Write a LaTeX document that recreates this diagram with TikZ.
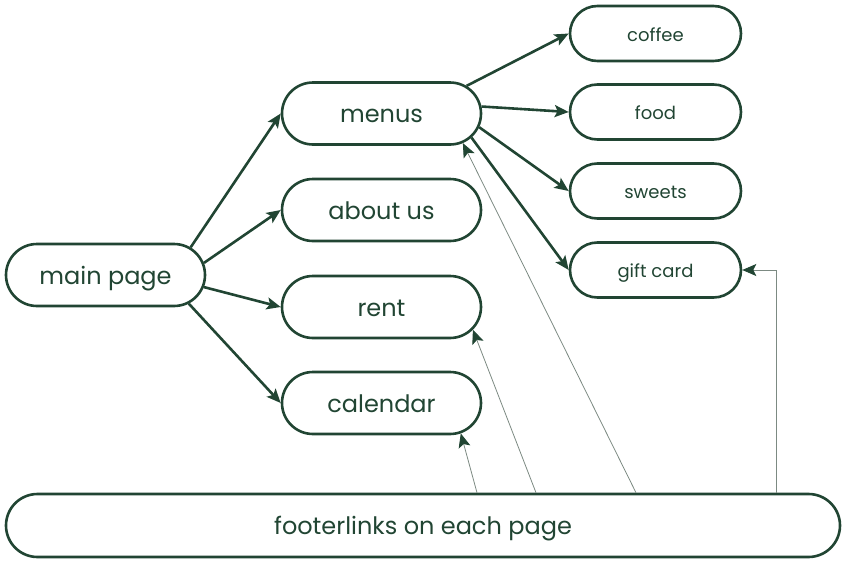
\documentclass[tikz,border=0pt]{standalone}
\usepackage{fontspec}
\setmainfont{Poppins}
\usetikzlibrary{shapes.misc,arrows.meta,calc}
\definecolor{dkgreen}{HTML}{214533}
\definecolor{thin}{HTML}{7C8A82}
\tikzset{
  bigbox/.style={rounded rectangle, draw=dkgreen, line width=2.6pt, minimum width=199pt, minimum height=62pt, text=dkgreen, font=\fontsize{24}{28}\selectfont, inner sep=0pt, text height=18pt, text depth=0pt},
  smallbox/.style={rounded rectangle, draw=dkgreen, line width=2.6pt, minimum width=171pt, minimum height=55pt, text=dkgreen, font=\fontsize{18}{21}\selectfont, inner sep=0pt, text height=15pt, text depth=0pt},
  thick link/.style={draw=dkgreen, line width=2.6pt, -{Stealth[length=14pt,width=12pt,inset=3pt]}},
  thin link/.style={draw=thin, line width=0.8pt, -{Stealth[length=14pt,width=12pt,inset=3pt,color=dkgreen,fill=dkgreen]}},
}
\begin{document}
\begin{tikzpicture}[x=1pt,y=-1pt]
\useasboundingbox (0,0) rectangle (847,565);
\node[bigbox] (main) at (105.5,275) {main page};
\node[bigbox] (menus) at (381.5,113.5) {menus};
\node[bigbox] (about) at (381.5,210) {about us};
\node[bigbox] (rent) at (381.5,307) {rent};
\node[bigbox] (calendar) at (381.5,403) {calendar};
\node[smallbox] (coffee) at (655.5,33.5) {coffee};
\node[smallbox] (food) at (655.5,112) {food};
\node[smallbox] (sweets) at (655.5,191) {sweets};
\node[smallbox] (gift) at (655.5,270) {gift card};
\node[bigbox, minimum width=834pt, minimum height=63pt] (footer) at (423,525.5) {footerlinks on each page};
\draw[thick link] (main.18) -- (menus.west);
\draw[thick link] (main.7) -- (about.west);
\draw[thick link] (main.-7) -- (rent.west);
\draw[thick link] (main.-19) -- (calendar.west);
\draw[thick link] (menus.18) -- (coffee.west);
\draw[thick link] (menus.4) -- (food.west);
\draw[thick link] (menus.-8) -- (sweets.west);
\draw[thick link] (menus.-15) -- (gift.west);
\coordinate (f1) at ($(footer.north)+(54,0)$);
\coordinate (f2) at ($(footer.north)+(113,0)$);
\coordinate (f3) at ($(footer.north)+(213,0)$);
\coordinate (f4) at ($(footer.north)+(353,0)$);
\draw[thin link] (f1) -- (calendar.-21);
\draw[thin link] (f2) -- (rent.-14);
\draw[thin link] (f3) -- (menus.-20);
\draw[thin link] (f4) |- (gift.east);
\end{tikzpicture}
\end{document}
